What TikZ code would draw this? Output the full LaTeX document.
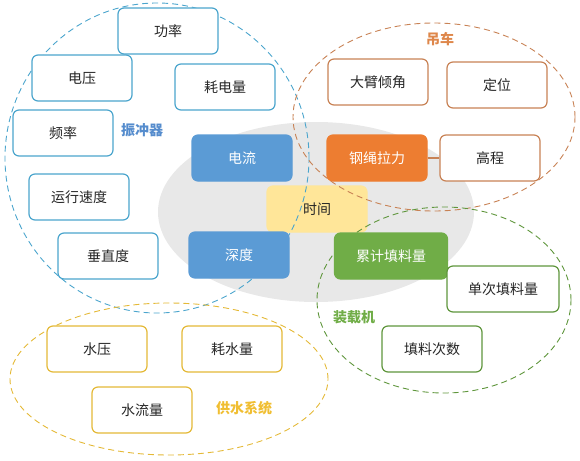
\documentclass[tikz,border=0pt]{standalone}
\usepackage{fontspec}
\setmainfont{Noto Sans CJK SC}
\definecolor{lineblue}{RGB}{75,165,205}
\definecolor{fillblue}{RGB}{91,155,213}
\definecolor{labelblue}{RGB}{85,140,205}
\definecolor{fillorange}{RGB}{237,125,49}
\definecolor{lineorange}{RGB}{200,130,85}
\definecolor{labelorange}{RGB}{222,135,75}
\definecolor{fillgreen}{RGB}{112,173,71}
\definecolor{linegreen}{RGB}{95,150,60}
\definecolor{fillyellow}{RGB}{255,230,153}
\definecolor{lineyellow}{RGB}{228,185,55}
\definecolor{labelyellow}{RGB}{240,190,50}
\definecolor{bggray}{RGB}{232,232,232}

\begin{document}
\begin{tikzpicture}[x=1pt, y=-1pt,
		box/.style={draw, rectangle, rounded corners=6pt, line width=1.2pt, fill=white, minimum width=100pt, minimum height=46pt, font=\fontsize{14}{14}\selectfont, text=black!85},
		filled/.style={box, text=white},
		group/.style={dashed, dash pattern=on 6pt off 4pt, line width=0.9pt},
		grouplabel/.style={font=\fontsize{14}{14}\selectfont\bfseries}]
			\useasboundingbox (0, 0) rectangle (580, 460);
			\fill[bggray] (316, 212) ellipse [x radius=158pt, y radius=90pt];
			\node[filled, draw=fillyellow, fill=fillyellow, text=black!85] (shijian) at (317, 209) {时间};
			% dashed groups
			\draw[group, lineblue] (157, 158) ellipse [x radius=152pt, y radius=155pt];
			\draw[group, lineorange] (434, 117) ellipse [x radius=141pt, y radius=94pt];
			\draw[group, linegreen] (444, 300) ellipse [x radius=127pt, y radius=93pt];
			\draw[group, lineyellow] (169, 379) ellipse [x radius=159pt, y radius=76pt];
			% vibroflot
			\node[box, draw=lineblue] (gonglv) at (168, 31) {功率};
			\node[box, draw=lineblue] (dianya) at (82, 78) {电压};
			\node[box, draw=lineblue] (haodian) at (225, 87) {耗电量};
			\node[box, draw=lineblue] (pinlv) at (63, 133) {频率};
			\node[box, draw=lineblue] (sudu) at (79, 197) {运行速度};
			\node[box, draw=lineblue] (chuizhi) at (108, 256) {垂直度};
			\node[filled, draw=fillblue, fill=fillblue] (dianliu) at (242, 158) {电流};
			\node[filled, draw=fillblue, fill=fillblue] (shendu) at (239, 255) {深度};
			\node[grouplabel, text=labelblue] (zhenchong) at (142, 130) {振冲器};
			% crane
			\node[box, draw=lineorange] (qingjiao) at (378, 82) {大臂倾角};
			\node[box, draw=lineorange] (dingwei) at (497, 85) {定位};
			\node[box, draw=lineorange] (gaocheng) at (490, 158) {高程};
			\node[filled, draw=fillorange, fill=fillorange] (lali) at (377, 158) {钢绳拉力};
			\draw[lineorange, line width=1.5pt] (lali) -- (gaocheng);
			\node[grouplabel, text=labelorange] (diaoche) at (440, 39) {吊车};
			% loader
			\node[filled, draw=fillgreen, fill=fillgreen, minimum width=113pt] (leiji) at (391, 256) {累计填料量};
			\node[box, draw=linegreen, minimum width=112pt] (danci) at (503, 289) {单次填料量};
			\node[box, draw=linegreen] (cishu) at (432, 349) {填料次数};
			\node[grouplabel, text=fillgreen] (zhuangzai) at (354, 317) {装载机};
			% water supply
			\node[box, draw=lineyellow] (shuiya) at (97, 349) {水压};
			\node[box, draw=lineyellow] (haoshui) at (232, 349) {耗水量};
			\node[box, draw=lineyellow] (liuliang) at (142, 410) {水流量};
			\node[grouplabel, text=labelyellow] (gongshui) at (244, 408) {供水系统};
		\end{tikzpicture}
\end{document}
